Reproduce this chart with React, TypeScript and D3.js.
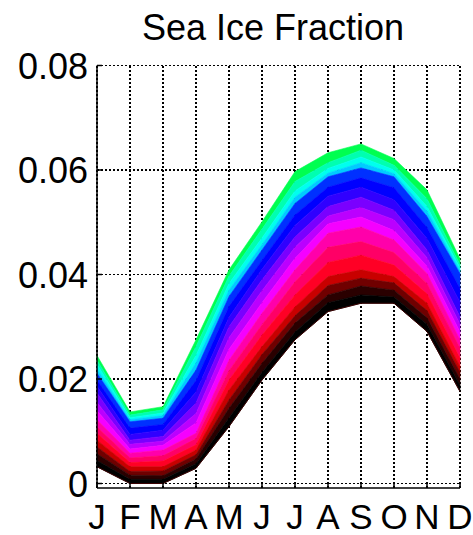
import * as d3 from "d3";

const months = ["J", "F", "M", "A", "M", "J", "J", "A", "S", "O", "N", "D"];
const yTicks = [0, 0.02, 0.04, 0.06, 0.08];
const yTickLabels = ["0", "0.02", "0.04", "0.06", "0.08"];

// boundary curves, top (green edge) to bottom (dark edge)
const curveT = [0.0245, 0.0137, 0.0147, 0.0275, 0.0409, 0.0501, 0.0597, 0.0633, 0.065, 0.0622, 0.0562, 0.043];
const curveG = [0.0236, 0.0131, 0.0141, 0.0262, 0.0397, 0.0487, 0.0578, 0.0614, 0.0638, 0.0609, 0.0545, 0.0419];
const curveC1 = [0.0228, 0.0126, 0.0135, 0.0245, 0.0383, 0.047, 0.056, 0.0603, 0.0625, 0.06, 0.053, 0.0413];
const curveC2 = [0.0219, 0.0122, 0.013, 0.0231, 0.037, 0.0457, 0.0548, 0.0594, 0.0614, 0.0593, 0.0521, 0.0407];
const curveCB = [0.0211, 0.0118, 0.0125, 0.0217, 0.0358, 0.0447, 0.0536, 0.0587, 0.0604, 0.0587, 0.0511, 0.0402];
const curveB1 = [0.0198, 0.0106, 0.0113, 0.0197, 0.0339, 0.0427, 0.0514, 0.0567, 0.0585, 0.0566, 0.049, 0.0373];
const curveB2 = [0.0186, 0.0094, 0.0102, 0.0175, 0.0318, 0.041, 0.0494, 0.055, 0.0567, 0.0543, 0.0469, 0.0347];
const curveBM = [0.0173, 0.0083, 0.009, 0.0154, 0.03, 0.039, 0.0472, 0.053, 0.0548, 0.0523, 0.0447, 0.0319];
const curveM1 = [0.0155, 0.0075, 0.0081, 0.0134, 0.0279, 0.0369, 0.0452, 0.0512, 0.0528, 0.0505, 0.0432, 0.0305];
const curveM2 = [0.0139, 0.0066, 0.0073, 0.0116, 0.0257, 0.0346, 0.0431, 0.0497, 0.051, 0.0484, 0.0416, 0.029];
const curveMR = [0.0122, 0.0058, 0.0064, 0.0096, 0.0236, 0.0326, 0.0409, 0.0479, 0.0491, 0.0466, 0.0402, 0.0275];
const curveR1 = [0.0108, 0.0049, 0.0053, 0.0086, 0.0216, 0.0304, 0.0386, 0.0452, 0.0463, 0.0442, 0.0383, 0.0259];
const curveR2 = [0.0096, 0.004, 0.0043, 0.0074, 0.0198, 0.0284, 0.0361, 0.0423, 0.0437, 0.0418, 0.0363, 0.024];
const curveRD = [0.0083, 0.0032, 0.0032, 0.0064, 0.0179, 0.0262, 0.0338, 0.0396, 0.0409, 0.0396, 0.0345, 0.0224];
const curveD1 = [0.007, 0.0023, 0.0024, 0.0055, 0.016, 0.0247, 0.0321, 0.0379, 0.0393, 0.0384, 0.0331, 0.0213];
const curveD2 = [0.0057, 0.0016, 0.0015, 0.0047, 0.0144, 0.023, 0.0307, 0.0361, 0.0378, 0.037, 0.0317, 0.02];
const curveD3 = [0.0044, 0.0008, 0.0008, 0.0038, 0.0126, 0.0213, 0.029, 0.0346, 0.0361, 0.0357, 0.0305, 0.0188];
const curveBot = [0.0032, 0.0, 0.0, 0.0029, 0.0109, 0.0198, 0.0275, 0.0329, 0.0345, 0.0345, 0.0291, 0.0176];

const curves = [
  curveT, curveG, curveC1, curveC2, curveCB, curveB1, curveB2, curveBM, curveM1,
  curveM2, curveMR, curveR1, curveR2, curveRD, curveD1, curveD2, curveD3, curveBot,
];

const bandColors = [
  "#00ff50", "#00ffb0", "#00ffee", "#00ccff", "#0030ff", "#0000ff", "#3000ff",
  "#7a00ff", "#bb00ff", "#f500ff", "#ff00aa", "#ff0066", "#ff0025", "#c80000",
  "#700000", "#2a0000", "#000000",
];

const App = () => {
  const width = 473;
  const height = 535;
  const left = 97;
  const right = 460;
  const top = 65.5;
  const axisBottom = 488;

  const x = d3.scaleLinear([0, months.length - 1], [left, right]);
  const y = d3.scaleLinear([0, 0.08], [483.5, top]);

  const font = "'Liberation Sans', Arial, sans-serif";

  const bands = bandColors.map((c, i) => {
    const upper = curves[i];
    const lower = curves[i + 1];
    const area = d3
      .area<number>()
      .x((_, j) => x(j))
      .y0((_, j) => y(lower[j]))
      .y1((_, j) => y(upper[j]));
    return <path key={i} d={area(upper)!} fill={c} stroke={c} strokeWidth={0.6} />;
  });

  const bottomLine = d3.line<number>((_, j) => x(j), (d) => y(d));

  return (
    <svg
      width={width}
      height={height}
      style={{ position: "absolute", left: 0, top: 0, background: "#fff" }}
    >
      <text x={273} y={40} fontSize={36} fontFamily={font} textAnchor="middle">
        Sea Ice Fraction
      </text>

      <g stroke="#000" strokeWidth={1.5} strokeDasharray="2,2" fill="none" shapeRendering="crispEdges">
        {yTicks.map((t) => (
          <line key={t} x1={left} x2={right} y1={y(t)} y2={y(t)} />
        ))}
        {months.map((_, i) => (
          <line key={i} x1={x(i)} x2={x(i)} y1={top} y2={axisBottom} />
        ))}
      </g>

      <g>{bands}</g>
      <path d={bottomLine(curveBot)!} fill="none" stroke="#3a0000" strokeWidth={1} />

      <g stroke="#000" strokeWidth={1.5}>
        <line x1={left} x2={left} y1={top} y2={axisBottom} />
        <line x1={left} x2={right} y1={axisBottom} y2={axisBottom} />
        {months.map((_, i) => (
          <line key={i} x1={x(i)} x2={x(i)} y1={axisBottom} y2={axisBottom - 5} />
        ))}
        {yTicks.map((t) => (
          <line key={t} x1={left} x2={left + 5} y1={y(t)} y2={y(t)} />
        ))}
      </g>

      <g fontSize={36} fontFamily={font} fill="#000">
        {yTicks.map((t, i) => (
          <text key={t} x={88} y={y(t) + 13} textAnchor="end">
            {yTickLabels[i]}
          </text>
        ))}
      </g>
      <g fontSize={35} fontFamily={font} fill="#000">
        {months.map((m, i) => (
          <text key={i} x={x(i)} y={529} textAnchor="middle">
            {m}
          </text>
        ))}
      </g>
    </svg>
  );
};

export default App;
